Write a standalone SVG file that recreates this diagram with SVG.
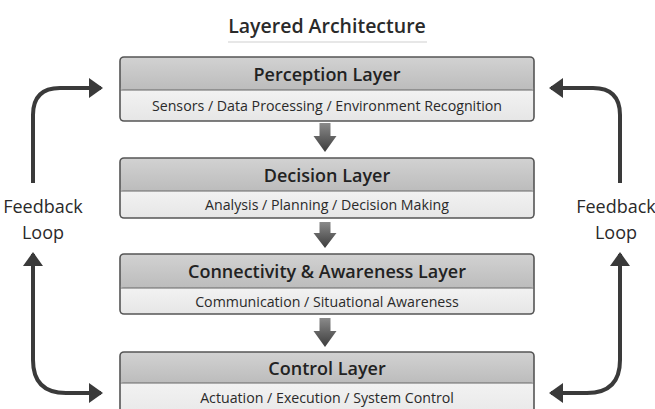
<svg xmlns="http://www.w3.org/2000/svg" width="655" height="409" viewBox="0 0 655 409">
<defs>
<linearGradient id="hdr" x1="0" y1="0" x2="0" y2="1">
<stop offset="0" stop-color="#d2d2d2"/>
<stop offset="1" stop-color="#bcbcbc"/>
</linearGradient>
<linearGradient id="body" x1="0" y1="0" x2="0" y2="1">
<stop offset="0" stop-color="#f2f2f2"/>
<stop offset="1" stop-color="#e6e6e6"/>
</linearGradient>
<linearGradient id="darr" x1="0" y1="0" x2="0" y2="1">
<stop offset="0" stop-color="#8a8a8a"/>
<stop offset="1" stop-color="#3c3c3c"/>
</linearGradient>
<marker id="ah" viewBox="0 0 14 20" refX="12" refY="10" markerWidth="3.5" markerHeight="5" orient="auto" markerUnits="strokeWidth">
<path d="M0,0 L14,10 L0,20 Z" fill="#3a3a3a"/>
</marker>
<clipPath id="cv"><rect x="0" y="0" width="655" height="409"/></clipPath>
</defs>
<style>
.title{font-family:"Open Sans","Noto Sans",sans-serif;font-size:19.5px;font-weight:600;fill:#2a2a2a;text-anchor:middle}
.h{font-family:"Open Sans","Noto Sans",sans-serif;font-size:18px;font-weight:600;fill:#222;text-anchor:middle}
.s{font-family:"Open Sans","Noto Sans",sans-serif;font-size:14.2px;fill:#2a2a2a;text-anchor:middle}
.fb{font-family:"Open Sans","Noto Sans",sans-serif;font-size:18px;font-weight:500;fill:#2a2a2a;text-anchor:middle}
.frame{fill:none;stroke:#555;stroke-width:1.6}
.div{stroke:#666;stroke-width:1}
.loop{fill:none;stroke:#3a3a3a;stroke-width:4;marker-end:url(#ah)}
.down{fill:url(#darr)}
</style>
<rect width="655" height="409" fill="#ffffff"/>
<text class="title" x="327" y="33">Layered Architecture</text>
<line x1="228" y1="42" x2="427" y2="42" stroke="#cfcfcf" stroke-width="1"/>

<g id="perception">
<rect x="120" y="57" width="414" height="33" rx="4" fill="url(#hdr)"/>
<rect x="120" y="90" width="414" height="31" fill="url(#body)"/>
<rect x="120" y="57" width="414" height="64" rx="4" class="frame"/>
<line x1="120" y1="90" x2="534" y2="90" class="div"/>
<text class="h" x="327" y="81">Perception Layer</text>
<text class="s" x="327" y="111">Sensors / Data Processing / Environment Recognition</text>
</g>

<g id="decision">
<rect x="120" y="158" width="414" height="33" rx="4" fill="url(#hdr)"/>
<rect x="120" y="191" width="414" height="27" fill="url(#body)"/>
<rect x="120" y="158" width="414" height="60" rx="4" class="frame"/>
<line x1="120" y1="191" x2="534" y2="191" class="div"/>
<text class="h" x="327" y="182">Decision Layer</text>
<text class="s" x="327" y="210">Analysis / Planning / Decision Making</text>
</g>

<g id="connectivity">
<rect x="120" y="254" width="414" height="34" rx="4" fill="url(#hdr)"/>
<rect x="120" y="288" width="414" height="26" fill="url(#body)"/>
<rect x="120" y="254" width="414" height="60" rx="4" class="frame"/>
<line x1="120" y1="288" x2="534" y2="288" class="div"/>
<text class="h" x="327" y="278">Connectivity &amp; Awareness Layer</text>
<text class="s" x="327" y="307">Communication / Situational Awareness</text>
</g>

<g id="control" clip-path="url(#cv)">
<rect x="120" y="352" width="414" height="31" rx="4" fill="url(#hdr)"/>
<rect x="120" y="383" width="414" height="40" fill="url(#body)"/>
<rect x="120" y="352" width="414" height="70" rx="4" class="frame"/>
<line x1="120" y1="383" x2="534" y2="383" class="div"/>
<text class="h" x="327" y="375">Control Layer</text>
<text class="s" x="327" y="403">Actuation / Execution / System Control</text>
</g>

<g id="connectors">
<path class="down" d="M319.5,123 H330.5 V136 H336.5 L325,152 L313.5,136 H319.5 Z"/>
<path class="down" d="M319.5,222 H330.5 V233 H336.5 L325,248 L313.5,233 H319.5 Z"/>
<path class="down" d="M319.5,318 H330.5 V331 H336.5 L325,347 L313.5,331 H319.5 Z"/>

<path class="loop" d="M33,183 V115 Q33,88 60,88 H101"/>
<path class="loop" d="M33,360 Q33,393 66,393 H101"/>
<path class="loop" d="M33,360 V254"/>
<path class="loop" d="M620,183 V115 Q620,88 593,88 H551"/>
<path class="loop" d="M620,360 Q620,393 587,393 H551"/>
<path class="loop" d="M620,360 V254"/>
</g>

<g id="feedback-left">
<text class="fb" x="43" y="213">Feedback</text>
<text class="fb" x="43" y="239">Loop</text>
</g>
<g id="feedback-right">
<text class="fb" x="616" y="213">Feedback</text>
<text class="fb" x="616" y="239">Loop</text>
</g>
</svg>
